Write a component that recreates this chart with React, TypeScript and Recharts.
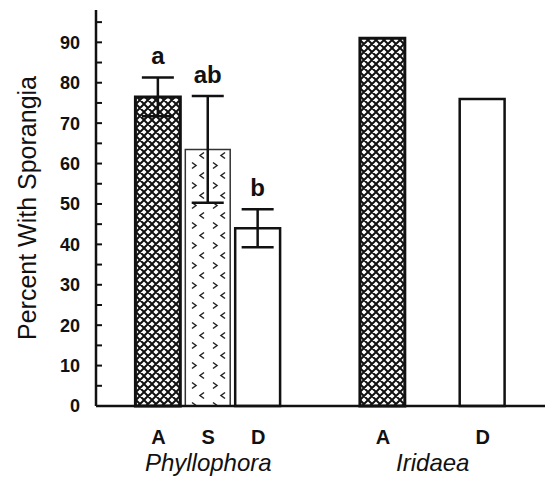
import React from 'react';
import { BarChart, Bar, XAxis, YAxis, ErrorBar, Cell, LabelList } from 'recharts';

// bar slots on a 0..18 numeric x axis
const positions = [2.5, 4.5, 6.5, 11.5, 15.5];
const categories = ['A', 'S', 'D', 'A', 'D'];
const percentValues = [76.5, 63.5, 44, 91, 76];
const errorValues = [4.8, 13.2, 4.7, null, null];
const sigLetters = ['a', 'ab', 'b', '', ''];
const fillKinds = ['cross', 'chevron', 'plain', 'cross', 'plain'];

const groupNames = ['Phyllophora', 'Iridaea'];
const groupPositions = [4.5, 13.5];

const yTicks = [0, 5, 10, 15, 20, 25, 30, 35, 40, 45, 50, 55, 60, 65, 70, 75, 80, 85, 90, 95];

const xTicks = Array.from(new Set([...positions, ...groupPositions])).sort((a, b) => a - b);

const data = positions.map((pos, i) => ({
  pos,
  cat: categories[i],
  value: percentValues[i],
  err: errorValues[i],
  letter: sigLetters[i],
  kind: fillKinds[i],
}));

const FONT = '"Liberation Sans", Arial, Helvetica, sans-serif';

const fillFor = (kind: string) =>
  kind === 'cross' ? 'url(#crossHatch)' : kind === 'chevron' ? 'url(#chevrons)' : '#fff';

// category letter under each bar, genus name under each group
const XTick = (props: any) => {
  const { x, y, payload } = props;
  const ci = positions.indexOf(payload.value);
  const gi = groupPositions.indexOf(payload.value);
  return (
    <g>
      {ci >= 0 && (
        <text x={x} y={y + 36} textAnchor="middle" fontSize={20} fontWeight="bold" fontFamily={FONT} fill="#111">
          {categories[ci]}
        </text>
      )}
      {gi >= 0 && (
        <text x={x} y={y + 63} textAnchor="middle" fontSize={24} fontStyle="italic" fontFamily={FONT} fill="#111">
          {groupNames[gi]}
        </text>
      )}
    </g>
  );
};

const LetterLabel = (props: any) => {
  const { x, y, width, height, index } = props;
  const row = data[index];
  if (!row || !row.letter) return null;
  const pxPerUnit = height / row.value;
  const errTop = y - (row.err || 0) * pxPerUnit;
  return (
    <text x={x + width / 2} y={errTop - 13} textAnchor="middle" fontSize={24} fontWeight="bold" fontFamily={FONT} fill="#111">
      {row.letter}
    </text>
  );
};

const App: React.FC = () => {
  return (
    <div style={{ position: 'absolute', left: 0, top: 0, width: 545, height: 478, background: '#fff' }}>
      <svg width={0} height={0} style={{ position: 'absolute' }}>
        <defs>
          <pattern id="crossHatch" width={8} height={8} patternUnits="userSpaceOnUse">
            <rect width={8} height={8} fill="#fff" />
            <path d="M0,0 L8,8 M8,0 L0,8 M-2,6 L2,10 M6,-2 L10,2 M-2,2 L2,-2 M6,10 L10,6" stroke="#111" strokeWidth={2} />
          </pattern>
          <pattern id="chevrons" width={21} height={20} patternUnits="userSpaceOnUse">
            <rect width={21} height={20} fill="#fff" />
            <path d="M3,2.5 L7,5.5 L3,8.5" fill="none" stroke="#222" strokeWidth={1.5} />
            <path d="M15,12.5 L11,15.5 L15,18.5" fill="none" stroke="#222" strokeWidth={1.5} />
          </pattern>
        </defs>
      </svg>
      <BarChart width={545} height={478} data={data} margin={{ top: 10, right: 0, left: 0, bottom: 0 }}>
        <XAxis
          type="number"
          dataKey="pos"
          domain={[0, 18]}
          ticks={xTicks}
          interval={0}
          tickLine={false}
          tickSize={0}
          height={72}
          axisLine={{ stroke: '#111', strokeWidth: 2.5 }}
          tick={<XTick />}
        />
        <YAxis
          type="number"
          domain={[0, 98]}
          ticks={yTicks}
          interval={0}
          width={96}
          tickSize={-6}
          tickMargin={22}
          tickFormatter={(v: number) => (v % 10 === 0 ? String(v) : '')}
          axisLine={{ stroke: '#111', strokeWidth: 2.5 }}
          tickLine={{ stroke: '#111', strokeWidth: 2 }}
          tick={{ fill: '#111', fontSize: 18, fontWeight: 'bold', fontFamily: FONT }}
          label={{
            value: 'Percent With Sporangia',
            angle: -90,
            position: 'insideLeft',
            offset: 27,
            style: { textAnchor: 'middle', fontSize: 25, fill: '#111', fontFamily: FONT },
          }}
        />
        <Bar dataKey="value" barSize={50} isAnimationActive={false}>
          {data.map((d, i) => (
            <Cell
              key={i}
              fill={fillFor(d.kind)}
              stroke={d.kind === 'chevron' ? '#333' : '#111'}
              strokeWidth={d.kind === 'cross' ? 3 : d.kind === 'chevron' ? 1.5 : 2.5}
            />
          ))}
          <ErrorBar dataKey="err" width={16} strokeWidth={2.5} stroke="#111" direction="y" />
          <LabelList dataKey="letter" content={<LetterLabel />} />
        </Bar>
      </BarChart>
    </div>
  );
};

export default App;
